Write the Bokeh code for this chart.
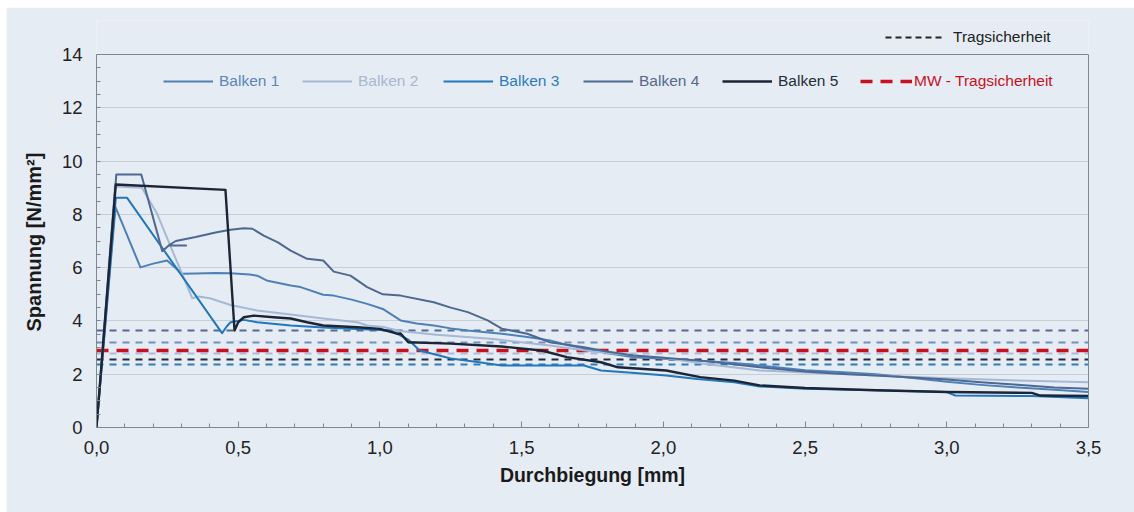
from bokeh.plotting import figure
from bokeh.models import FixedTicker, Legend, LegendItem, Range1d, ColumnDataSource, LinearAxis, Title
from bokeh.embed import file_html
from bokeh.resources import INLINE

# ---------------- data ----------------
series_names = ["Balken 1", "Balken 2", "Balken 3", "Balken 4", "Balken 5"]

b1_x = [0, 0.067, 0.155, 0.20, 0.249, 0.302, 0.35, 0.42, 0.473, 0.54, 0.567, 0.60, 0.685, 0.72, 0.80, 0.837,
        0.90, 0.955, 1.01, 1.073, 1.13, 1.19, 1.25, 1.31, 1.43, 1.52, 1.60, 1.66, 1.72, 1.80, 1.895, 2.0,
        2.13, 2.25, 2.34, 2.5, 2.62, 2.75, 2.88, 3.0, 3.12, 3.25, 3.38, 3.5]
b1_y = [0, 8.27, 6.01, 6.15, 6.27, 5.77, 5.78, 5.80, 5.79, 5.74, 5.70, 5.52, 5.33, 5.27, 4.98, 4.95,
        4.80, 4.64, 4.45, 4.02, 3.90, 3.83, 3.72, 3.64, 3.52, 3.40, 3.27, 3.10, 2.97, 2.80, 2.64, 2.58,
        2.51, 2.42, 2.33, 2.15, 2.08, 2.00, 1.86, 1.72, 1.60, 1.50, 1.42, 1.33]

b2_x = [0, 0.065, 0.16, 0.214, 0.272, 0.338, 0.36, 0.40, 0.473, 0.567, 0.685, 0.80, 0.92, 0.955, 1.013,
        1.07, 1.2, 1.4, 1.6, 1.75, 1.9, 2.0, 2.15, 2.34, 2.5, 2.75, 3.0, 3.25, 3.5]
b2_y = [0, 9.05, 9.0, 8.02, 6.53, 4.85, 4.92, 4.85, 4.60, 4.39, 4.24, 4.09, 3.95, 3.83, 3.77,
        3.62, 3.48, 3.32, 3.08, 2.85, 2.70, 2.62, 2.38, 2.14, 2.06, 1.95, 1.85, 1.76, 1.70]

b3_x = [0, 0.068, 0.108, 0.443, 0.46, 0.473, 0.52, 0.567, 0.685, 0.80, 0.92, 1.04, 1.073, 1.10, 1.14,
        1.25, 1.35, 1.43, 1.55, 1.72, 1.78, 1.9, 2.01, 2.12, 2.25, 2.34, 2.5, 2.75, 3.0, 3.03, 3.3, 3.5]
b3_y = [0, 8.62, 8.62, 3.54, 3.80, 3.95, 4.04, 3.95, 3.83, 3.75, 3.70, 3.64, 3.45, 3.30, 2.89,
        2.59, 2.45, 2.33, 2.33, 2.33, 2.14, 2.05, 1.95, 1.82, 1.70, 1.54, 1.45, 1.40, 1.33, 1.20, 1.18, 1.10]

b4_x = [0, 0.07, 0.158, 0.232, 0.255, 0.316, 0.255, 0.28, 0.35, 0.42, 0.473, 0.52, 0.55, 0.59, 0.64,
        0.685, 0.743, 0.80, 0.837, 0.896, 0.955, 1.01, 1.073, 1.19, 1.25, 1.31, 1.38, 1.43, 1.52, 1.60,
        1.72, 1.80, 1.895, 2.0, 2.13, 2.34, 2.5, 2.62, 2.75, 2.88, 3.0, 3.12, 3.25, 3.38, 3.5]
b4_y = [0, 9.5, 9.5, 6.62, 6.83, 6.83, 6.84, 7.0, 7.15, 7.32, 7.42, 7.48, 7.46, 7.2, 6.95,
        6.64, 6.33, 6.27, 5.85, 5.70, 5.27, 5.0, 4.95, 4.70, 4.50, 4.33, 4.02, 3.71, 3.52, 3.20,
        3.01, 2.85, 2.70, 2.62, 2.51, 2.26, 2.10, 2.02, 1.95, 1.88, 1.80, 1.70, 1.60, 1.50, 1.45]

b5_x = [0, 0.068, 0.455, 0.487, 0.50, 0.52, 0.555, 0.625, 0.685, 0.743, 0.80, 0.92, 1.0, 1.06, 1.073,
        1.10, 1.25, 1.43, 1.57, 1.66, 1.78, 1.84, 2.01, 2.13, 2.25, 2.34, 2.5, 2.75, 3.0, 3.3, 3.33, 3.5]
b5_y = [0, 9.12, 8.92, 3.64, 3.95, 4.14, 4.20, 4.14, 4.09, 3.95, 3.83, 3.76, 3.70, 3.52, 3.53,
        3.20, 3.15, 3.04, 2.89, 2.64, 2.45, 2.26, 2.14, 1.89, 1.76, 1.58, 1.48, 1.40, 1.33, 1.30, 1.20, 1.18]

# Tragsicherheit per beam (Balken 1..5) and mean
trag_values = [3.18, 2.78, 2.36, 3.64, 2.56]
mw_trag = 2.90

x_ticks = [0.0, 0.5, 1.0, 1.5, 2.0, 2.5, 3.0, 3.5]
x_tick_labels = ["0,0", "0,5", "1,0", "1,5", "2,0", "2,5", "3,0", "3,5"]
x_minor = [0.1, 0.2, 0.3, 0.4, 0.6, 0.7, 0.8, 0.9, 1.1, 1.2, 1.3, 1.4, 1.6, 1.7, 1.8, 1.9,
           2.1, 2.2, 2.3, 2.4, 2.6, 2.7, 2.8, 2.9, 3.1, 3.2, 3.3, 3.4]
y_ticks = [0, 2, 4, 6, 8, 10, 12, 14]
y_minor = [0.5, 1, 1.5, 2.5, 3, 3.5, 4.5, 5, 5.5, 6.5, 7, 7.5, 8.5, 9, 9.5, 10.5, 11, 11.5,
           12.5, 13, 13.5]
x_min, x_max = 0.0, 3.5
y_min, y_max = 0, 14

# ---------------- style ----------------
BG = "#E6ECF4"
AX = "#80868E"
line_colors = ["#4E80B8", "#A3B9D6", "#2077BE", "#4D6891", "#1C2535"]
text_colors = ["#5A86BA", "#A6B7CE", "#2B7BC0", "#56698A", "#252C3A"]
line_widths = [2, 2, 2, 2, 2.4]
trag_colors = ["#7090BC", "#A9BCD8", "#2E7DB8", "#56698E", "#222B3A"]
RED = "#C8101E"
FONT = "Liberation Sans"

# frame extends above y=14 to host the "Tragsicherheit" legend (no clipping)
px_per_unit = 373 / 14.0
y_top = y_max + 34 / px_per_unit

p = figure(width=1128, height=505, margin=(7, 0, 0, 6), output_backend="svg", toolbar_location=None,
           x_range=Range1d(x_min, x_max), y_range=Range1d(y_min, y_top),
           min_border_left=90, min_border_right=46, min_border_top=13, min_border_bottom=85)
p.background_fill_color = BG
p.border_fill_color = BG
p.outline_line_color = None

p.xgrid.visible = False
p.ygrid.grid_line_color = "#C8CED6"
p.ygrid.grid_line_width = 1

p.xaxis.ticker = FixedTicker(ticks=x_ticks, minor_ticks=x_minor)
p.xaxis.major_label_overrides = {t: l for t, l in zip(x_ticks, x_tick_labels)}
p.yaxis.ticker = FixedTicker(ticks=y_ticks, minor_ticks=y_minor)
p.yaxis.major_label_overrides = {t: str(t) for t in y_ticks}
p.yaxis.bounds = (y_min, y_max)

for ax in (p.xaxis[0], p.yaxis[0]):
    ax.axis_line_color = AX
    ax.major_tick_line_color = AX
    ax.minor_tick_line_color = AX
    ax.major_tick_out = 0
    ax.minor_tick_out = 0
    ax.major_label_text_font = FONT
    ax.major_label_text_font_size = "18.5px"
    ax.major_label_text_color = "#222222"
    ax.axis_label_text_font = FONT
    ax.axis_label_text_font_size = "19.5px"
    ax.axis_label_text_font_style = "bold"
    ax.axis_label_text_color = "#1A1A1A"
p.xaxis.major_tick_in = 6
p.xaxis.minor_tick_in = 4
p.yaxis.major_tick_in = 4
p.yaxis.minor_tick_in = 4
p.xaxis.major_label_standoff = 13
p.yaxis.major_label_standoff = 14
p.xaxis.axis_label = "Durchbiegung [mm]"
p.xaxis.axis_label_standoff = 7

# y-axis title as a left-side title so it is centred on the 0..14 part of the frame
ytitle = Title(text="Spannung [N/mm²]", align="left", offset=96, standoff=28,
               text_font=FONT, text_font_size="20px", text_font_style="bold", text_color="#1A1A1A")
p.add_layout(ytitle, "left")

# right border of the plot area (plain axis line without ticks)
rax = LinearAxis(bounds=(y_min, y_max), ticker=FixedTicker(ticks=[]), axis_line_color=AX,
                 major_tick_line_color=None, minor_tick_line_color=None,
                 major_label_text_font_size="0px")
p.add_layout(rax, "right")

# top border of the plot area at y=14
src_top = ColumnDataSource(dict(y=[y_max]))
p.hspan(y="y", source=src_top, line_color=AX, line_width=1)

# Tragsicherheit lines per beam
src_trag = ColumnDataSource(dict(y=trag_values, color=trag_colors))
p.hspan(y="y", source=src_trag, line_color="color", line_width=2, line_dash="7 6")
# mean line
src_mw = ColumnDataSource(dict(y=[mw_trag]))
mw_r = p.hspan(y="y", source=src_mw, line_color=RED, line_width=3.5, line_dash="12 8")

# curves
xs_all = [b1_x, b2_x, b3_x, b4_x, b5_x]
ys_all = [b1_y, b2_y, b3_y, b4_y, b5_y]
renderers = []
for xs, ys, c, w in zip(xs_all, ys_all, line_colors, line_widths):
    r = p.line(x=xs, y=ys, line_color=c, line_width=w, line_join="round")
    renderers.append(r)

# legends (one per item to allow individual text colours)
leg_y = 336
leg_x = [67, 206, 347, 487, 626]
for name, r, tc, lx in zip(series_names, renderers, text_colors, leg_x):
    leg = Legend(items=[LegendItem(label=name, renderers=[r])], location=(lx, leg_y),
                 orientation="horizontal", glyph_width=50, label_standoff=6, padding=0, margin=0,
                 border_line_color=None, background_fill_alpha=0, label_text_font=FONT,
                 label_text_font_size="15.5px", label_text_color=tc)
    p.add_layout(leg)

leg_mw = Legend(items=[LegendItem(label="MW - Tragsicherheit", renderers=[mw_r])], location=(764, leg_y),
                orientation="horizontal", glyph_width=52, label_standoff=2, padding=0, margin=0,
                border_line_color=None, background_fill_alpha=0, label_text_font=FONT,
                label_text_font_size="15.5px", label_text_color=RED)
p.add_layout(leg_mw)

# dummy renderer for black "Tragsicherheit" legend entry
dummy = p.line(x=[x_min], y=[-10], line_color="#222222", line_width=2, line_dash="6 4")
leg_top = Legend(items=[LegendItem(label="Tragsicherheit", renderers=[dummy])], location=(789, 380),
                 orientation="horizontal", glyph_width=58, label_standoff=10,
                 padding=0, margin=0,
                 border_line_color=None, background_fill_alpha=0, label_text_font=FONT,
                 label_text_font_size="15.5px", label_text_color="#222222")
p.add_layout(leg_top)

open("out.html", "w").write(file_html(p, INLINE))
